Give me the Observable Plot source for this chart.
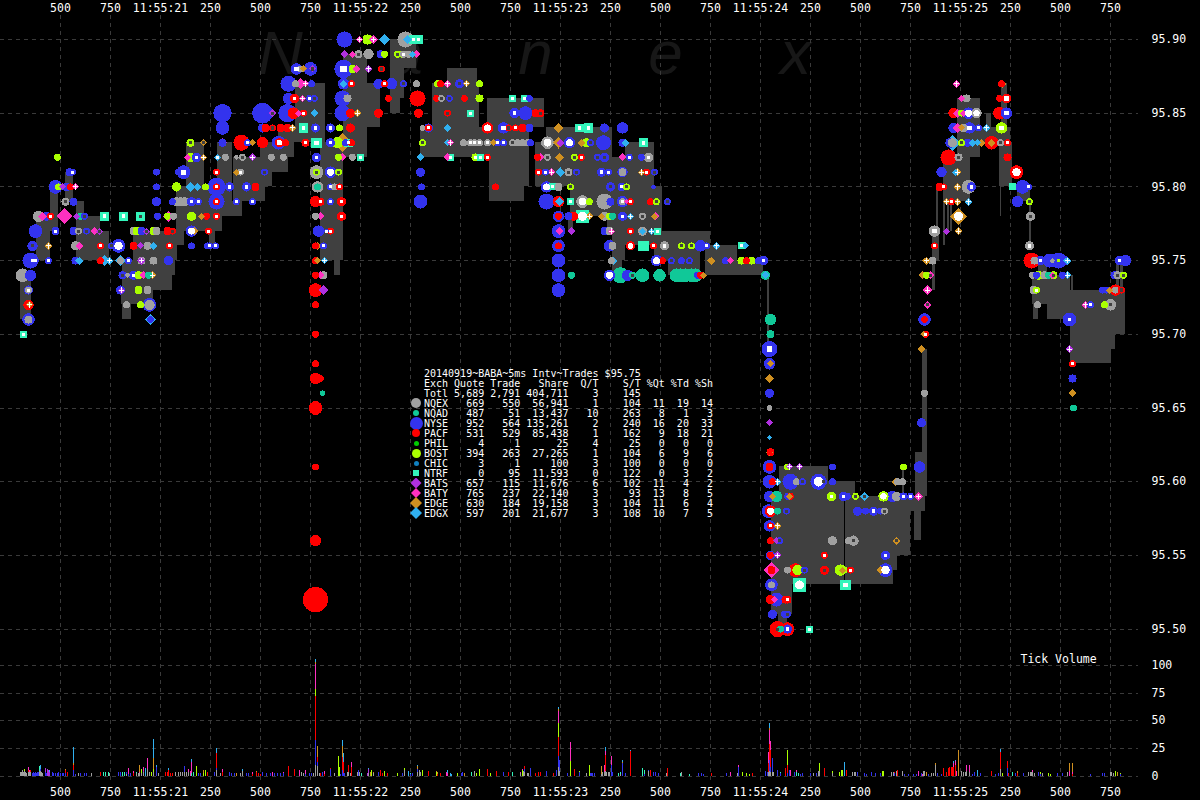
<!DOCTYPE html>
<html><head><meta charset="utf-8">
<script src="https://cdn.jsdelivr.net/npm/d3@7"></script>
<script src="https://cdn.jsdelivr.net/npm/@observablehq/plot@0.6"></script>
<style>
html,body{margin:0;background:#000;width:1200px;height:800px;overflow:hidden}
#wrap{position:relative;width:1200px;height:800px}
svg{display:block}
svg g[aria-label="dot"] *, svg g[aria-label="rect"] *, svg g[aria-label="rule"] *{shape-rendering:crispEdges}
#table{position:absolute;left:424px;top:369px;margin:0;font:10px/10px "DejaVu Sans Mono",monospace;color:#fff;white-space:pre}
.sw{position:absolute;display:block}
</style></head><body><div id="wrap"></div>
<script>
// ---------- axes ----------
const tickMs=[-500,-250,0,250,500,750,1000,1250,1500,1750,2000,2250,2500,2750,3000,3250,3500,3750,4000,4250,4500,4750];
const tickLabels=["500","750","11:55:21","250","500","750","11:55:22","250","500","750","11:55:23","250","500","750","11:55:24","250","500","750","11:55:25","250","500","750"];
const priceTicks=[95.5,95.55,95.6,95.65,95.7,95.75,95.8,95.85,95.9];
const volumeTicks=[0,25,50,75,100];
const watermarkLetters=["N","a","n","e","x"];
const watermarkMs=[600,1225,1875,2525,3175];

// ---------- exchanges ----------
const codes=["Q","D","N","P","X","B","C","T","Z","Y","E","G"];
const exchNames=["NQEX","NQAD","NYSE","PACF","PHIL","BOST","CHIC","NTRF","BATS","BATY","EDGE","EDGX"];
const exchColors=["#a0a0a0","#10c898","#3333ee","#ff0000","#00cc00","#aaff00","#1080c0","#33f5bb","#b030e0","#ff30c0","#d09020","#30b0f0"];
const exchSymbols=["circle","circle","circle","circle","circle","circle","circle","square","diamond2","diamond2","diamond2","diamond2"];
const swatchR=[5,3,6.5,4,2.5,4.5,2.5,2.8,5.5,5,6,6];

// ---------- summary table ----------
const quotes=[669,487,952,531,4,394,3,0,657,765,630,597];
const trades=[550,51,564,529,1,263,1,95,115,237,184,201];
const shares=[56941,13437,135261,85438,25,27265,100,11593,11676,22140,19158,21677];
const qPerT=[1,10,2,1,4,1,3,0,6,3,3,3];
const sPerT=[104,263,240,162,25,104,100,122,102,93,104,108];
const pctQt=[11,8,16,9,0,6,0,0,11,13,11,10];
const pctTd=[19,1,20,18,0,9,0,3,4,8,6,7];
const pctSh=[14,3,33,21,0,6,0,2,2,5,4,5];

// ---------- NBBO spread blocks: [msStart, msEnd, priceLow, priceHigh] ----------
const spreadLeft=[[-700,-645,95.71,95.74],[-620,-550,95.75,95.78],[-550,-510,95.77,95.80],[-475,-435,95.79,95.81],[-420,-380,95.78,95.79],[-420,-300,95.75,95.78],[-365,-255,95.75,95.77],[-190,75,95.74,95.75],[-190,60,95.73,95.74],[-195,-35,95.72,95.73],[-190,-145,95.71,95.72],[-135,85,95.75,95.77],[-135,120,95.76,95.77],[80,275,95.77,95.80],[80,310,95.77,95.79],[130,220,95.80,95.83],[245,275,95.76,95.77],[285,360,95.79,95.83],[310,410,95.78,95.79],[365,525,95.79,95.82],[365,560,95.80,95.82],[500,640,95.81,95.82],[500,670,95.82,95.83],[590,825,95.83,95.84],[675,825,95.84,95.87],[800,915,95.75,95.83],[870,900,95.74,95.75],[865,1035,95.82,95.83],[915,1035,95.82,95.89],[1035,1100,95.84,95.87],[1150,1200,95.85,95.90],[1200,1280,95.88,95.90],[1200,1220,95.86,95.88]];
const spreadMid=[[1435,1585,95.87,95.88],[1360,1595,95.84,95.87],[1300,1845,95.82,95.84],[1635,1920,95.84,95.86],[1645,1845,95.80,95.82],[1645,1820,95.79,95.80],[1930,2260,95.82,95.84],[1875,2260,95.82,95.83],[1875,2470,95.80,95.82],[2325,2470,95.82,95.83],[2050,2510,95.78,95.80],[2235,2510,95.77,95.78],[2260,2750,95.76,95.77],[2260,2325,95.75,95.76],[2260,2310,95.74,95.75],[2040,2065,95.77,95.78],[2470,2700,95.75,95.76],[2540,2700,95.74,95.75],[2725,2885,95.74,95.76],[2885,3015,95.74,95.75],[3035,3045,95.69,95.74]];
const spreadLow=[[3095,3340,95.60,95.61],[3095,3475,95.59,95.60],[3055,3825,95.58,95.59],[3055,3750,95.55,95.58],[3055,3685,95.54,95.55],[3055,3665,95.53,95.54],[3055,3160,95.51,95.53],[3090,3135,95.50,95.51],[3775,3825,95.59,95.62],[3770,3805,95.56,95.58],[3710,3720,95.59,95.61]];
const spreadRight=[[3810,3835,95.59,95.69],[3860,3875,95.73,95.75],[3860,3895,95.75,95.77],[3915,4050,95.79,95.82],[3915,3925,95.76,95.79],[3935,3945,95.77,95.79],[3950,3960,95.77,95.79],[3880,3890,95.77,95.80],[3985,4100,95.82,95.86],[4100,4250,95.83,95.84],[4130,4155,95.84,95.85],[4195,4260,95.80,95.83],[4205,4235,95.83,95.87],[4200,4205,95.78,95.80],[4285,4350,95.79,95.80],[4345,4355,95.76,95.79],[4360,4550,95.72,95.74],[4390,4435,95.74,95.75],[4435,4550,95.71,95.72],[4365,4390,95.71,95.72],[4550,4825,95.70,95.73],[4550,4775,95.69,95.70],[4550,4755,95.68,95.69],[4780,4795,95.73,95.75],[4800,4815,95.73,95.75],[4555,4565,95.73,95.74]];
const spreadGap=[[3420,3425,95.53,95.59]];

// ---------- events per price: [ms, exchange, size, centre] ----------
const p9590=[[920,"N",7],[995,"Y",3,"p"],[1035,"B",4.5],[1065,"Y",3.5,"p"],[1120,"G",5],[1225,"Q",7],[1235,"G",4],[1265,"T",4,"s"],[1290,"T",4,"s"]];
const p9589=[[920,"Z",3.5],[960,"Y",3],[990,"Q",3.5,"o"],[1040,"Q",4.5],[1100,"N",3.5],[1120,"B",3],[1185,"B",3,"o"],[1210,"B",3],[1215,"Q",3,"s"],[1240,"Q",3],[1260,"G",3],[1280,"Y",3.5]];
const p9588=[[680,"N",5,"s"],[700,"Q",3],[715,"E",3],[750,"N",6],[760,"Z",3,"o"],[915,"N",8,"s"],[960,"B",3.5],[980,"Y",3.5],[1040,"Z",3.5,"p"],[1105,"P",3,"o"]];
const p9587=[[640,"N",7],[675,"Q",3],[700,"Y",4.5],[725,"Y",3,"p"],[755,"N",3],[915,"N",5],[915,"G",3.5],[955,"P",3,"s"],[1090,"N",4.5],[1120,"P",3,"s"],[1155,"N",5],[1215,"N",3,"o"],[1280,"Q",3],[1385,"B",3],[1400,"P",3],[1435,"Y",3.5,"p"],[1495,"N",4,"o"],[1530,"E",3,"p"],[1595,"B",3],[3980,"Y",3.5,"p"],[4205,"P",3],[4210,"E",3.5]];
const p9586=[[640,"N",5],[670,"P",4,"s"],[710,"Y",3,"p"],[745,"N",3,"s"],[770,"N",3,"o"],[910,"N",7],[935,"Q",3.5],[1140,"P",3],[1285,"P",7],[1380,"P",3],[1405,"Q",3,"o"],[1445,"N",3,"o"],[1520,"P",3],[1595,"B",3.5],[1760,"T",3.5,"s"],[1820,"T",3.5,"s"],[1845,"N",3],[4005,"Y",3],[4030,"Q",3.5],[4195,"P",3],[4230,"P",4,"w"]];
const p9585=[[310,"N",8],[510,"N",9],[560,"Z",3.5,"o"],[635,"N",8],[665,"P",5],[690,"Y",3],[715,"P",3,"s"],[770,"G",3.5],[910,"N",7],[950,"P",4],[985,"E",3.5,"p"],[1090,"P",4],[1290,"P",4],[1435,"P",3,"o"],[1550,"T",3.5,"s"],[1770,"N",4.5,"s"],[1825,"N",6],[1875,"P",3.5],[1900,"P",3.5,"o"],[3965,"P",4.5],[3985,"Y",4],[4005,"B",3],[4015,"Y",3],[4040,"N",5,"w"],[4080,"Q",4.5,"w"],[4195,"P",5.5],[4230,"N",5,"s"]];
const p9584=[[310,"N",6],[510,"N",4],[525,"P",3.5],[560,"P",3,"o"],[600,"P",3.5],[635,"P",3.5],[660,"E",3.5,"p"],[715,"T",4.5,"s"],[775,"N",4,"s"],[850,"N",4,"s"],[895,"B",3],[950,"P",4],[1310,"Q",2.5],[1340,"N",4],[1340,"P",3,"s"],[1435,"G",3.5],[1635,"P",5,"w"],[1715,"N",5,"s"],[1740,"P",3,"o"],[1775,"P",3,"s"],[1810,"P",3.5],[1845,"N",3.5],[1990,"E",4.5],[2095,"T",4,"s"],[2140,"T",4.5,"s"],[2220,"N",4],[2310,"N",5],[3965,"N",4.5],[3985,"Y",4.5],[4005,"E",3],[4015,"Q",3.5],[4045,"N",5,"s"],[4090,"N",3,"s"],[4130,"G",3.5,"p"],[4205,"B",5,"s"]];
const p9583=[[150,"B",3.5,"o"],[215,"E",3,"o"],[310,"N",3.5],[310,"Z",4],[405,"P",7],[435,"N",3,"s"],[460,"E",3],[510,"P",5],[590,"N",6],[595,"P",4,"w"],[625,"P",3],[725,"P",3.5,"s"],[780,"T",5,"s"],[850,"N",4,"s"],[885,"B",5],[910,"E",7],[925,"N",3],[940,"T",4,"s"],[955,"P",3],[1310,"Q",3],[1310,"B",3,"o"],[1435,"G",3],[1450,"Y",3,"p"],[1515,"Q",3],[1550,"Q",3,"s"],[1570,"Q",3,"s"],[1595,"Q",3,"s"],[1635,"Q",3,"s"],[1665,"E",3],[1685,"N",3,"s"],[1715,"N",3,"s"],[1760,"Q",3,"o"],[1785,"Q",3],[1810,"Q",3],[1835,"Q",3],[1850,"N",3],[1935,"Q",5.5,"w"],[1990,"E",5],[2000,"Z",3.5],[2045,"N",5,"w"],[2105,"E",3.5],[2130,"B",4],[2150,"N",3,"o"],[2215,"N",6.5],[2310,"N",3.5],[2325,"G",3.5],[2415,"T",4.5,"s"],[3950,"N",4.5],[3960,"G",6],[3960,"Q",4],[4005,"B",3,"o"],[4035,"N",3.5],[4060,"G",3.5],[4085,"G",3],[4105,"E",3.5],[4155,"P",6],[4155,"E",3.5],[4200,"Q",3,"o"],[4235,"P",3,"s"]];
const p9582=[[-515,"B",3],[135,"Y",3],[150,"B",4],[180,"N",4,"s"],[215,"E",3,"p"],[285,"G",3,"s"],[325,"Q",3],[380,"Q",2],[410,"Q",3,"o"],[460,"Z",3.5,"p"],[555,"Q",3],[615,"Q",3],[780,"N",4,"s"],[890,"B",3],[910,"Y",3.5],[960,"Q",3],[1000,"T",3.5,"s"],[1300,"G",3.5],[1435,"Y",3.5],[1450,"T",3.5,"s"],[1575,"B",3.5,"s"],[1600,"T",3.5,"s"],[1635,"P",3,"s"],[1885,"P",3],[1900,"Y",3.5],[1935,"Q",3,"o"],[1995,"E",4],[2070,"B",3,"o"],[2105,"P",3,"s"],[2185,"N",3,"o"],[2220,"N",4,"o"],[2310,"Y",3.5],[2345,"N",3,"s"],[2405,"N",3],[2440,"Q",4,"s"],[3940,"P",7],[3990,"Q",3.5,"o"],[4235,"P",3.5]];
const p9581=[[-455,"N",3.5],[-440,"N",3,"s"],[-20,"N",3],[90,"N",3],[115,"N",6,"s"],[280,"P",3,"s"],[380,"E",3],[400,"Q",3,"s"],[520,"N",3,"o"],[780,"Q",6],[780,"B",3,"o"],[850,"N",5,"w"],[890,"B",3,"o"],[1300,"N",4],[1890,"P",3,"s"],[1925,"N",3,"s"],[1955,"Y",3.5,"p"],[2000,"G",4],[2040,"Q",3.5,"o"],[2080,"N",3,"o"],[2205,"N",4,"s"],[2240,"N",3,"s"],[2310,"N",4.5],[2310,"Q",3.5],[2405,"E",3,"p"],[2430,"P",3,"s"],[2470,"N",3,"o"],[3905,"N",4.5],[3975,"G",3],[3985,"E",3.5,"p"],[4280,"P",6,"w"]];
const p9580=[[-525,"N",6],[-510,"B",3],[-490,"Z",3],[-470,"N",3.5],[-450,"P",3],[-425,"Y",3,"p"],[-20,"N",3],[80,"B",4],[150,"G",4],[185,"G",3.5],[225,"B",3],[280,"N",8],[280,"P",3,"s"],[345,"N",4,"s"],[430,"N",4,"s"],[475,"P",3.5],[785,"Q",5],[785,"D",3],[850,"N",3,"s"],[870,"Q",3],[895,"P",3,"s"],[1305,"N",3],[1675,"P",3],[1930,"N",5,"w"],[1960,"T",3.5,"s"],[1990,"Q",3.5],[2050,"B",3,"o"],[2250,"N",4,"o"],[2305,"N",3.5,"s"],[2330,"B",3,"o"],[2465,"N",2],[3895,"P",3.5],[3915,"P",3,"s"],[3985,"E",3.5,"p"],[4040,"Q",6],[4055,"N",4,"s"],[4260,"T",3.5],[4310,"N",6],[4340,"N",3,"s"]];
const p9579=[[-475,"Q",3.5,"o"],[-435,"N",3.5],[-20,"N",4],[60,"N",3],[80,"Q",4],[100,"Q",4],[120,"Q",4],[155,"N",4,"s"],[190,"N",3,"s"],[280,"N",7],[280,"P",3,"s"],[380,"N",3,"s"],[460,"N",3,"s"],[775,"P",5],[800,"P",3.5,"s"],[850,"N",3,"s"],[905,"P",4,"s"],[1300,"N",6],[1930,"N",7],[1990,"P",5],[1995,"G",4],[2050,"T",3.5,"s"],[2110,"Q",5.5,"w"],[2145,"B",3],[2220,"Q",7],[2250,"N",3.5],[2310,"N",5],[2310,"Q",3,"s"],[2330,"Y",2],[2350,"P",3,"s"],[2450,"P",3],[2480,"B",3,"o"],[2535,"N",3,"o"],[3930,"E",3,"p"],[3955,"P",3,"s"],[3985,"E",3.5,"p"],[4040,"G",3.5,"p"],[4285,"N",5],[4345,"B",3,"o"]];
const p9578=[[-610,"Q",5],[-590,"Y",4],[-570,"N",4],[-550,"P",3,"s"],[-480,"Y",6],[-420,"Z",3],[-400,"D",3],[-380,"N",3,"o"],[-280,"T",4.5,"s"],[-185,"T",4.5,"s"],[-100,"T",4.5,"o"],[-15,"N",3],[35,"B",3],[40,"Y",4.5],[65,"Q",3],[155,"B",4],[205,"E",3],[230,"P",3],[280,"P",3,"s"],[775,"Q",3],[800,"Y",3.5],[905,"P",4,"s"],[1990,"N",5],[1990,"P",3],[2040,"N",3.5],[2065,"P",4],[2110,"T",6.5,"w"],[2145,"E",3.5,"p"],[2205,"E",3],[2220,"Q",4],[2245,"B",3],[2260,"D",3],[2310,"N",4,"s"],[2350,"G",3,"p"],[2410,"Q",3,"o"],[2470,"E",3],[2475,"Y",3.5],[3990,"E",6.5,"w"],[4350,"Q",4,"o"]];
const p9577=[[-625,"N",6],[-525,"N",3.5,"s"],[-435,"N",3.5],[-410,"Q",3,"o"],[-370,"N",3,"o"],[-330,"Y",3.5],[-305,"Z",3,"o"],[-135,"Q",3.5],[-120,"B",3.5],[-95,"N",3.5],[-70,"Z",3,"o"],[-35,"B",3.5],[-20,"Q",3.5],[35,"P",3.5],[60,"P",3,"o"],[155,"N",5,"w"],[170,"E",3.5],[240,"P",3,"s"],[790,"N",5],[830,"N",2,"s"],[850,"B",3],[850,"P",3,"s"],[1990,"N",6],[1995,"Y",3.5],[2055,"Z",3.5],[2220,"N",3.5],[2245,"Q",3.5],[2255,"Y",3,"p"],[2350,"P",3,"s"],[2410,"G",3],[2410,"Q",4],[2455,"G",3,"p"],[2485,"T",3.5,"s"],[3870,"Q",5,"s"],[3930,"Z",3],[3990,"E",3.5,"p"]];
const p9576=[[-640,"N",4.5,"o"],[-560,"E",3.5,"p"],[-425,"Q",4],[-405,"Y",3.5],[-300,"P",3,"s"],[-245,"N",3,"o"],[-210,"N",6,"w"],[-135,"P",3.5],[-100,"Z",3],[-65,"Q",3.5],[-35,"G",3.5],[45,"P",3,"s"],[155,"N",3],[235,"N",3],[245,"N",3,"s"],[275,"N",3,"s"],[775,"P",3],[785,"E",3.5],[815,"N",3,"s"],[1990,"N",5.5],[1990,"P",3],[2245,"N",5],[2260,"Q",3.5],[2350,"P",4,"w"],[2415,"T",5],[2465,"P",3,"s"],[2520,"Q",4,"s"],[2605,"B",3,"o"],[2655,"B",3,"o"],[2700,"N",5],[2730,"N",3,"s"],[2780,"G",3.5,"p"],[2905,"T",3.5,"s"],[2925,"G",3],[3870,"P",3,"s"],[4345,"Q",4,"s"]];
const p9575=[[-650,"N",7],[-640,"N",2,"s"],[-625,"N",3,"s"],[-560,"N",3,"s"],[-425,"N",3.5],[-405,"G",3.5],[-300,"P",3],[-280,"G",5],[-255,"G",3.5,"p"],[-200,"G",5],[-200,"Q",3],[-160,"N",3,"s"],[-95,"Q",3.5],[-95,"Z",3.5,"p"],[-35,"Q",3.5],[40,"N",4],[775,"P",3],[785,"E",3],[820,"G",3,"p"],[1990,"N",6],[2255,"Q",3],[2265,"G",3.5],[2480,"N",5,"w"],[2510,"P",3],[2555,"N",3,"o"],[2605,"N",3],[2645,"N",3,"o"],[2755,"E",3.5],[2825,"N",3],[2850,"Y",3],[2905,"B",3.5],[2930,"P",3],[2955,"B",3.5],[2990,"N",3],[3015,"N",4,"s"],[3830,"E",3.5,"p"],[3860,"Q",3.5],[4355,"P",7],[4370,"Q",3.5],[4400,"N",4,"s"],[4445,"N",6],[4460,"Q",2],[4490,"N",7],[4490,"B",1.5],[4510,"N",5],[4535,"G",3.5,"p"],[4795,"N",4,"s"],[4825,"N",5]];
const p9574=[[-690,"Q",6],[-650,"N",5],[-190,"N",3.5,"o"],[-165,"Q",2],[-135,"N",4,"s"],[-110,"B",3.5],[-85,"Y",3.5],[-60,"D",3],[-40,"E",3.5,"p"],[775,"P",3],[800,"Y",3.5],[815,"Q",3.5],[1990,"N",6],[2055,"D",3],[2245,"N",5,"w"],[2300,"D",7],[2335,"N",5],[2360,"D",3,"o"],[2410,"D",6],[2495,"D",5.5],[2580,"D",6],[2600,"D",6],[2625,"D",6],[2655,"D",6],[2675,"D",6],[2685,"N",3],[2700,"P",3],[2715,"E",3],[3025,"G",3.5],[3025,"D",4],[3810,"E",3.5],[3830,"B",3],[3850,"Y",3.5,"o"],[4360,"Q",3],[4380,"N",3],[4390,"B",4],[4420,"Q",3.5],[4440,"D",3],[4460,"Y",3],[4465,"B",3.5,"o"],[4510,"N",3],[4535,"G",3.5,"p"],[4770,"N",3.5],[4785,"Q",3.5,"o"],[4815,"B",3,"o"]];
const p9573=[[-660,"N",4],[-660,"Q",3,"s"],[-200,"N",4],[-195,"Z",3,"p"],[-110,"B",3.5],[-65,"Q",3.5],[775,"P",6],[815,"Z",4.5],[1990,"N",6],[3835,"Y",4,"p"],[4365,"Q",3.5],[4380,"B",3,"s"],[4710,"N",3],[4730,"N",3],[4745,"E",3],[4775,"P",5],[4775,"Q",3],[4805,"P",3,"o"]];
const p9572=[[-660,"P",4.5],[-655,"E",3,"p"],[-170,"Q",3],[-100,"B",3],[-55,"N",6],[-55,"Q",4.5],[775,"P",3],[3835,"Y",3.5,"o"],[4385,"Q",3],[4625,"Y",3.5,"p"],[4650,"N",3,"s"],[4720,"B",3],[4750,"Q",5,"o"]];
const p9571=[[-660,"N",5.5],[-660,"Q",3.5],[-50,"N",3],[-50,"G",4.5],[3050,"D",5],[3820,"N",5.5],[3820,"P",3],[4545,"N",6],[4545,"N",1,"s"]];
const p9570=[[-685,"T",3.5,"s"],[775,"P",3],[3050,"D",3.5],[3815,"E",2.5],[3825,"P",3,"s"]];
const p9569=[[3045,"N",7,"s"],[3805,"E",3.5],[4545,"Z",3.5,"p"]];
const p9568=[[775,"P",3],[3045,"N",5],[3050,"E",3],[4560,"P",3,"s"]];
const p9567=[[775,"P",5],[800,"P",3],[3045,"E",4],[4560,"N",3.5]];
const p9566=[[810,"D",2.5],[3045,"N",4],[3820,"Q",3],[4560,"E",3.5]];
const p9565=[[775,"P",6],[3045,"Q",2.5],[4565,"D",3]];
const p9564=[[3045,"Z",3],[3805,"N",4]];
const p9563=[[3045,"G",2.5]];
const p9562=[[3045,"P",2.5],[3045,"E",3],[3050,"P",3.5]];
const p9561=[[775,"P",3],[3045,"N",6],[3045,"P",3.5],[3135,"B",3],[3145,"Z",3,"p"],[3195,"Z",3,"p"],[3360,"N",3],[3715,"B",3],[3795,"N",5]];
const p9560=[[3045,"N",6],[3060,"P",3],[3085,"G",3.5,"p"],[3150,"N",7],[3180,"Q",3],[3210,"N",3,"o"],[3290,"N",7,"w"],[3315,"N",3,"o"],[3360,"N",3],[3675,"E",3.5],[3685,"Q",3],[3710,"Q",3]];
const p9559=[[3045,"N",5],[3060,"E",3],[3080,"D",5],[3135,"N",3],[3145,"E",3],[3150,"P",3],[3355,"B",4,"s"],[3415,"N",4,"s"],[3435,"N",3],[3475,"B",3,"o"],[3520,"G",3.5,"o"],[3615,"B",4.5,"w"],[3660,"N",5],[3680,"Q",4],[3715,"N",3.5,"s"],[3750,"N",3,"s"],[3790,"Y",3.5,"p"]];
const p9558=[[3040,"N",6],[3050,"P",5,"w"],[3085,"D",3],[3130,"N",3,"o"],[3485,"N",4],[3525,"N",3],[3565,"N",4,"s"],[3600,"N",3],[3620,"Q",3,"o"]];
const p9557=[[3045,"N",5],[3050,"P",3,"s"],[3085,"E",3.5,"p"]];
const p9556=[[775,"P",5],[3050,"P",3],[3080,"Z",3],[3095,"N",3,"o"],[3360,"Q",4],[3440,"Q",3],[3465,"Q",4.5,"o"],[3680,"E",3.5,"o"]];
const p9555=[[3050,"N",4],[3050,"P",3],[3085,"Z",3.5,"p"],[3320,"P",3,"s"],[3625,"N",4,"s"]];
const p9554=[[3055,"Y",6],[3055,"P",3.5],[3135,"Q",3],[3175,"P",6],[3185,"B",4.5],[3220,"N",3,"o"],[3320,"P",4,"o"],[3400,"B",5],[3410,"E",3],[3420,"B",3],[3450,"P",3,"s"],[3600,"E",3.5],[3625,"N",6,"w"]];
const p9553=[[3055,"N",5.5],[3055,"Q",3],[3195,"T",6.5,"w"],[3425,"T",5,"s"]];
const p9552=[[775,"P",11],[3050,"P",4],[3080,"N",6],[3070,"Y",3],[3125,"P",3.5],[3135,"P",3.5,"s"]];
const p9551=[[3060,"N",4],[3120,"N",3],[3135,"N",3,"o"]];
const p9550=[[3085,"P",7,"o"],[3100,"D",3],[3135,"P",6],[3135,"N",4,"s"],[3245,"T",3.5,"s"]];
const rowPrices=[95.90,95.89,95.88,95.87,95.86,95.85,95.84,95.83,95.82,95.81,95.80,95.79,95.78,95.77,95.76,95.75,95.74,95.73,95.72,95.71,95.70,95.69,95.68,95.67,95.66,95.65,95.64,95.63,95.62,95.61,95.60,95.59,95.58,95.57,95.56,95.55,95.54,95.53,95.52,95.51,95.50];
const rowEvents=[p9590,p9589,p9588,p9587,p9586,p9585,p9584,p9583,p9582,p9581,p9580,p9579,p9578,p9577,p9576,p9575,p9574,p9573,p9572,p9571,p9570,p9569,p9568,p9567,p9566,p9565,p9564,p9563,p9562,p9561,p9560,p9559,p9558,p9557,p9556,p9555,p9554,p9553,p9552,p9551,p9550];

// ---------- tick volume per exchange: [ms, count] ----------
const volNQEX=[[-700,3],[-695,3],[-690,5],[-685,3],[-680,4],[-675,3],[-670,2],[-660,3],[-655,3],[-650,3],[-605,4],[-600,4],[-595,3],[-590,2],[-410,2],[-345,2],[-255,2],[-170,1],[-120,2],[-110,2],[-105,2],[-95,2],[-85,3],[-65,6],[-55,3],[-35,3],[-10,2],[75,3],[90,3],[100,3],[110,3],[120,3],[130,3],[140,3],[280,5],[300,2],[400,2],[410,4],[705,3],[715,2],[765,2],[775,10],[785,9],[795,2],[870,2],[935,3],[940,3],[950,2],[985,3],[995,3],[1040,2],[1065,2],[1220,5],[1285,3],[1295,5],[1300,3],[1570,4],[1800,2],[1815,4],[1820,3],[1835,2],[1840,2],[1990,8],[1995,4],[2130,2],[2205,1],[2210,3],[2220,3],[2225,4],[2230,3],[2240,3],[2245,3],[2300,1],[2440,4],[2530,2],[2605,3],[2885,2],[3040,3],[3045,4],[3050,3],[3060,3],[3065,3],[3265,2],[3290,4],[3295,4],[3360,2],[3460,3],[3470,3],[3475,3],[3655,3],[3665,3],[3680,4],[3710,4],[3815,4],[3820,4],[3855,2],[3865,2],[3875,10],[4005,4],[4015,3],[4025,3],[4030,4],[4045,3],[4200,6],[4340,3],[4350,3],[4355,3],[4360,3],[4370,2],[4410,2],[4535,3],[4750,3],[4755,3],[4765,2]];
const volNYSE=[[-640,2],[-635,3],[-630,2],[-625,3],[-620,2],[-615,3],[-610,3],[-600,2],[-575,3],[-570,2],[-540,3],[-535,2],[-525,2],[-515,2],[-510,3],[-500,2],[-490,2],[-485,2],[-475,2],[-435,5],[-425,1],[-400,2],[-380,2],[-370,2],[-210,3],[-200,3],[-170,2],[-150,2],[-20,8],[-160,1],[120,6],[190,2],[200,2],[270,3],[280,2],[345,3],[355,2],[370,2],[430,2],[440,2],[510,3],[530,2],[550,2],[570,2],[585,2],[600,2],[615,2],[725,1],[745,2],[755,2],[775,22],[785,3],[810,3],[850,6],[900,1],[910,5],[915,2],[920,2],[990,5],[1090,3],[1210,2],[1250,1],[1260,2],[1285,3],[1505,2],[1510,3],[1715,3],[1820,3],[1850,7],[1930,4],[1980,5],[1990,10],[1995,10],[2035,2],[2095,3],[2150,2],[2155,2],[2160,2],[2170,2],[2255,10],[2260,3],[2310,11],[2325,2],[2420,1],[2440,1],[2465,3],[2475,3],[2490,2],[2690,2],[2705,2],[2715,1],[2830,2],[2890,8],[3025,4],[3035,3],[3045,10],[3050,5],[3060,13],[3085,5],[3100,2],[3135,2],[3145,5],[3170,3],[3200,1],[3210,2],[3250,2],[3280,2],[3485,3],[3520,2],[3530,1],[3555,3],[3575,2],[3600,2],[3670,2],[3720,1],[3740,1],[3765,1],[3780,1],[3805,2],[3840,1],[3885,2],[3905,1],[4060,1],[4070,3],[4100,2],[4175,1],[4190,2],[4235,7],[4275,2],[4315,2],[4390,3],[4400,1],[4485,2],[4510,2],[4650,1],[4710,2],[4720,2],[4800,1]];
const volPACF=[[-660,2],[-650,2],[-475,3],[-465,3],[-435,5],[-300,3],[-135,2],[25,3],[35,3],[40,5],[50,2],[60,2],[235,3],[280,13],[310,3],[460,1],[480,3],[490,2],[500,1],[640,9],[670,6],[775,40],[785,5],[800,2],[820,1],[850,1],[910,12],[915,10],[940,7],[955,8],[1100,5],[1110,2],[1135,2],[1340,4],[1385,1],[1400,2],[1635,6],[1680,4],[1740,3],[1820,3],[1875,2],[1890,3],[1900,3],[1965,2],[1990,17],[2070,6],[2225,15],[2350,22],[2450,5],[2535,7],[2755,2],[2960,2],[3040,8],[3045,15],[3050,15],[3125,7],[3135,8],[3320,7],[3430,5],[3685,5],[3670,1],[3915,7],[3930,3],[3940,7],[3945,8],[3955,8],[3960,8],[3965,8],[3975,10],[4155,4],[4200,15],[4235,6],[4240,2],[4285,2],[4560,1]];
const volBOST=[[-680,2],[-95,4],[-45,3],[-35,3],[180,9],[215,2],[225,5],[775,6],[895,8],[890,18],[1055,5],[1120,4],[1185,2],[1220,2],[1310,5],[1380,3],[1485,2],[1595,6],[1580,2],[1650,2],[1810,5],[2050,13],[2145,10],[2095,1],[1990,13],[2910,3],[2930,2],[2945,1],[3135,13],[3295,7],[3360,2],[3395,3],[3405,5],[3410,5],[3610,4],[3615,4],[4210,2],[4400,2],[4440,2],[4450,1],[4775,4],[4800,1]];
const volNTRF=[[-605,5],[-285,3],[-275,3],[-260,3],[-190,3],[-180,3],[-120,1],[155,2],[165,3],[1005,2],[1250,1],[1555,3],[1760,3],[2290,2],[2300,2],[2410,7],[2420,4],[2600,2],[2645,1],[3100,1],[3180,3],[3190,2],[4260,3]];
const volBATS=[[-575,4],[-565,6],[-560,5],[-555,3],[-85,1],[1035,2],[1040,4]];
const volBATY=[[-660,3],[-655,2],[-160,6],[-135,2],[-105,1],[-85,4],[-65,10],[140,3],[150,4],[155,10],[310,3],[460,2],[560,3],[615,1],[695,5],[725,4],[775,23],[820,3],[955,4],[1430,3],[1435,2],[1800,1],[1810,1],[1990,10],[2050,17],[2220,7],[2225,3],[2255,8],[2850,3],[2890,2],[3040,10],[3045,12],[3050,8],[3150,5],[3180,2],[3790,4],[3810,1],[3965,3],[3975,3],[3980,4],[4030,6],[4045,7],[4360,2],[4545,4],[4560,2]];
const volEDGE=[[-475,1],[-435,1],[-105,7],[-35,10],[215,3],[380,2],[480,1],[775,2],[785,10],[910,10],[1050,3],[1065,1],[1285,3],[1380,1],[1385,2],[1520,2],[1990,2],[2205,8],[2310,1],[3045,2],[3830,3],[3875,1],[3990,23],[4285,2],[4545,7],[4560,8],[4785,3]];
const volEDGX=[[-600,4],[-555,2],[-435,15],[-75,7],[-35,17],[-20,2],[40,2],[155,3],[280,5],[410,2],[775,2],[910,5],[915,8],[1040,1],[1240,4],[1285,1],[1435,3],[1450,2],[1455,1],[1990,2],[2225,4],[2310,2],[2350,1],[3045,5],[3420,12],[3965,2],[3975,1],[4085,5],[4200,3]];
const volCodes=["Q","N","P","B","T","Z","Y","E","G"];
const volSeries=[volNQEX,volNYSE,volPACF,volBOST,volNTRF,volBATS,volBATY,volEDGE,volEDGX];

// ---------- build tables ----------
const colorOf=Object.fromEntries(codes.map((c,i)=>[c,exchColors[i]]));
const symbolOf=Object.fromEntries(codes.map((c,i)=>[c,exchSymbols[i]]));
const events=rowEvents.flatMap((row,i)=>row.map(([ms,ex,size,centre])=>({ms,ex,size,centre,price:rowPrices[i]})))
  .sort((a,b)=>a.ms-b.ms);
const spread=[...spreadLeft,...spreadMid,...spreadLow,...spreadRight];
const vol=volSeries.flatMap((s,i)=>s.map(([ms,n])=>({ms,n,ex:volCodes[i]}))).sort((a,b)=>a.ms-b.ms||volCodes.indexOf(a.ex)-volCodes.indexOf(b.ex));
const watermark=watermarkLetters.map((t,i)=>({t,ms:watermarkMs[i]}));

const MONO='"DejaVu Sans Mono",monospace';
const xScale={domain:[-800,4950],range:[0,1150]};
const gridRule={stroke:"#3a3a3a",strokeDasharray:"4,4",strokeWidth:1};
const tickFmt=d=>tickLabels[tickMs.indexOf(d)];
const markR=d=>d.size*(symbolOf[d.ex]==="diamond2"?(d.size>5?1.2:1.05):symbolOf[d.ex]==="square"?1.15:1.15);

const plotTop=Plot.plot({
  width:1200,height:650,marginLeft:0,marginRight:50,marginTop:11,marginBottom:0,
  style:{background:"#000",fontFamily:MONO,fontSize:"11.5px",color:"#fff"},
  x:xScale,y:{domain:[95.5,95.9],range:[628.6,39]},
  marks:[
    Plot.text(watermark,{x:"ms",y:()=>95.89,text:"t",fontSize:62,fontStyle:"italic",fontFamily:"Liberation Sans",fill:"#171717"}),
    Plot.ruleX(tickMs,{...gridRule,y1:95.3,y2:95.92}),
    Plot.ruleY(priceTicks,{...gridRule,x1:-800,x2:4890}),
    Plot.rect(spread,{x1:d=>d[0],x2:d=>d[1],y1:d=>d[2],y2:d=>d[3],fill:"#404040"}),
    Plot.rect(spreadGap,{x1:d=>d[0],x2:d=>d[1],y1:d=>d[2],y2:d=>d[3],fill:"#000"}),
    Plot.dot(events,{x:"ms",y:"price",r:{value:markR,scale:null},fill:d=>colorOf[d.ex],symbol:d=>symbolOf[d.ex]}),
    Plot.dot(events.filter(d=>d.centre==="s"),{x:"ms",y:"price",r:{value:d=>Math.max(1.7,d.size*.48),scale:null},fill:"#fff",symbol:"square"}),
    Plot.dot(events.filter(d=>d.centre==="w"),{x:"ms",y:"price",r:{value:d=>d.size*.7,scale:null},fill:"#fff"}),
    Plot.dot(events.filter(d=>d.centre==="o"),{x:"ms",y:"price",r:1.8,fill:"#404040",symbol:"square"}),
    Plot.dot(events.filter(d=>d.centre==="p"),{x:"ms",y:"price",r:2,stroke:"#fff",strokeWidth:1,symbol:"plus"}),
    Plot.axisX({anchor:"top",ticks:tickMs,tickFormat:tickFmt,tickSize:0,tickPadding:0,label:null,fill:"#fff"}),
    Plot.axisY({anchor:"right",ticks:priceTicks,tickFormat:d=>d.toFixed(2),tickSize:0,tickPadding:1,label:null,fill:"#fff"})
  ]
});

const plotBottom=Plot.plot({
  width:1200,height:150,marginLeft:0,marginRight:50,marginTop:0,marginBottom:13,
  style:{background:"#000",fontFamily:MONO,fontSize:"11.5px",color:"#fff"},
  x:xScale,y:{domain:[0,100],range:[125.6,15]},
  marks:[
    Plot.ruleX(tickMs,{...gridRule,y1:-4,y2:130}),
    Plot.ruleY(volumeTicks,{...gridRule,x1:-800,x2:4890}),
    Plot.rectY(vol,{x1:"ms",x2:d=>d.ms+7,y:"n",fill:d=>colorOf[d.ex]}),
    Plot.text(["Tick Volume"],{x:()=>4300,y:()=>105.5,textAnchor:"start",fill:"#fff",fontFamily:MONO,fontSize:11.5}),
    Plot.axisX({anchor:"bottom",ticks:tickMs,tickFormat:tickFmt,tickSize:0,tickPadding:0,label:null,fill:"#fff"}),
    Plot.axisY({anchor:"right",ticks:volumeTicks,tickSize:0,tickPadding:1,label:null,fill:"#fff"})
  ]
});

const wrap=document.getElementById("wrap");
wrap.append(plotTop,plotBottom);

// ---------- table overlay ----------
const f=d3.format(",");
const tableRow=(n,q,t,s,qt,st,a,b,c)=>[String(n).padEnd(4),String(q).padStart(6),String(t).padStart(6),String(s).padStart(8),String(qt).padStart(5),String(st).padStart(7),String(a).padStart(4),String(b).padStart(4),String(c).padStart(4)].join("");
const lines=["20140919~BABA~5ms Intv~Trades $95.75",
  tableRow("Exch","Quote","Trade","Share","Q/T","S/T","%Qt","%Td","%Sh"),
  tableRow("Totl",f(5689),f(2791),f(404711),3,145,"","",""),
  ...exchNames.map((n,i)=>tableRow(n,quotes[i],trades[i],f(shares[i]),qPerT[i],sPerT[i],pctQt[i],pctTd[i],pctSh[i]))];
const pre=document.createElement("pre");pre.id="table";pre.textContent=lines.join("\n");wrap.append(pre);
exchNames.forEach((n,i)=>{
  const s=document.createElement("span");s.className="sw";
  const r=swatchR[i],cy=403+i*10;
  s.style.cssText=`left:${416-r}px;top:${cy-r}px;width:${2*r}px;height:${2*r}px;background:${exchColors[i]};`+
    (exchSymbols[i]==="circle"?"border-radius:50%;":exchSymbols[i]==="square"?"":"clip-path:polygon(50% 0,100% 50%,50% 100%,0 50%);");
  wrap.append(s);
});
</script></body></html>
